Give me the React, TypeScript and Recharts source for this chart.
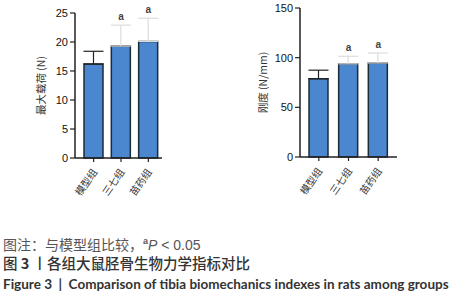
import React from "react";
import { BarChart, Bar, XAxis, YAxis, ErrorBar, ReferenceDot, Cell } from "recharts";

const groups = ["模型组", "三七组", "苗药组"];
const maxLoad = [16.2, 19.3, 20.1];
const maxLoadSd = [2.2, 3.6, 4.0];
const stiffness = [78.8, 93.8, 94.7];
const stiffnessSd = [8.6, 7.6, 10.0];
const marked = [false, true, true];
const loadTicks = [0, 5, 10, 15, 20, 25];
const stiffTicks = [0, 50, 100, 150];

const BLUE = "#4b87cf";
const EDGE = "#1f2a38";
const AXIS = "#222";
const FONT = "'Liberation Sans', Arial, sans-serif";

const rows = (vals: number[], sds: number[]) =>
  groups.map((g, i) => ({
    name: g,
    value: vals[i],
    errDark: marked[i] ? null : [0, sds[i]],
    errLight: marked[i] ? [0, sds[i]] : null,
    top: vals[i] + sds[i],
  }));

const XTick = (props: any) => {
  const { x, y, payload } = props;
  return (
    <text
      x={x + 4}
      y={y + 8}
      transform={`rotate(-55 ${x + 4} ${y + 8})`}
      textAnchor="end"
      fontSize={10}
      fill="#333"
      fontFamily="'Noto Sans CJK SC', sans-serif"
    >
      {payload.value}
    </text>
  );
};

function Panel(props: {
  vals: number[];
  sds: number[];
  ticks: number[];
  label: string;
  yWidth: number;
  margin: { top: number; right: number; bottom: number; left: number };
  labelDx: number;
  padLeft: number;
  padRight: number;
}) {
  const data = rows(props.vals, props.sds);
  const max = props.ticks[props.ticks.length - 1];
  return (
    <BarChart width={200} height={215} data={data} margin={props.margin} barSize={19}>
      <XAxis
        dataKey="name"
        height={50}
        interval={0}
        tick={<XTick />}
        tickSize={4}
        axisLine={{ stroke: AXIS, strokeWidth: 1.5 }}
        tickLine={{ stroke: AXIS, strokeWidth: 1.2 }}
        padding={{ left: props.padLeft, right: props.padRight }}
      />
      <YAxis
        width={props.yWidth}
        domain={[0, max]}
        ticks={props.ticks}
        interval={0}
        tickSize={5}
        axisLine={{ stroke: AXIS, strokeWidth: 1.5 }}
        tickLine={{ stroke: AXIS, strokeWidth: 1.2 }}
        tick={{ fontSize: 11, fill: "#111", fontFamily: FONT }}
        label={{
          value: props.label,
          angle: -90,
          position: "center",
          dx: props.labelDx,
          style: { fontSize: 10.5, fill: "#333", fontFamily: "'Noto Sans CJK SC', sans-serif" },
        }}
      />
      <Bar dataKey="value" fill={BLUE} stroke={EDGE} strokeWidth={1.5} isAnimationActive={false}>
        {data.map((d) => (
          <Cell key={d.name} fill={BLUE} />
        ))}
        <ErrorBar dataKey="errDark" width={10} stroke={AXIS} strokeWidth={1.2} direction="y" />
        <ErrorBar dataKey="errLight" width={10} stroke="#dcdcdc" strokeWidth={1.2} direction="y" />
      </Bar>
      {data.map((d, i) =>
        marked[i] ? (
          <ReferenceDot
            key={d.name}
            x={d.name}
            y={d.top}
            r={0}
            stroke="none"
            fill="none"
            ifOverflow="visible"
            label={{
              value: "a",
              position: "top",
              offset: 5,
              style: { fontSize: 10, fontWeight: 700, fill: "#444", fontFamily: FONT },
            }}
          />
        ) : null
      )}
    </BarChart>
  );
}

export default function App() {
  return (
    <div
      style={{
        position: "absolute",
        left: 0,
        top: 0,
        width: 470,
        height: 300,
        background: "#fff",
        overflow: "hidden",
      }}
    >
      <div style={{ position: "absolute", left: 0, top: 0 }}>
        <Panel
          vals={maxLoad}
          sds={maxLoadSd}
          ticks={loadTicks}
          label="最大载荷 (N)"
          yWidth={75}
          margin={{ top: 13, right: 38, bottom: 7, left: 0 }}
          labelDx={4}
          padLeft={5}
          padRight={0}
        />
      </div>
      <div style={{ position: "absolute", left: 230, top: 0 }}>
        <Panel
          vals={stiffness}
          sds={stiffnessSd}
          ticks={stiffTicks}
          label="刚度 (N/mm)"
          yWidth={70}
          margin={{ top: 8, right: 33, bottom: 8, left: 0 }}
          labelDx={-2}
          padLeft={4}
          padRight={4}
        />
      </div>
      <div
        style={{
          position: "absolute",
          left: 3,
          top: 230,
          fontFamily: "'Noto Sans CJK SC', sans-serif",
          fontSize: 14,
          color: "#555",
          whiteSpace: "nowrap",
        }}
      >
        <div style={{ height: 22, lineHeight: "22px" }}>
          图注：与模型组比较，
          <sup style={{ fontSize: 9, fontWeight: 700, fontFamily: FONT }}>a</sup>
          <span style={{ fontFamily: FONT, fontStyle: "italic" }}>P</span>
          <span style={{ fontFamily: FONT }}> &lt; 0.05</span>
        </div>
        <div style={{ height: 21, lineHeight: "22px", color: "#333", fontWeight: 500, fontSize: 14.5 }}>
          图 <b>3</b> 丨各组大鼠胫骨生物力学指标对比
        </div>
        <div
          style={{
            lineHeight: "22px",
            color: "#333",
            fontWeight: 700,
            fontFamily: "Lato, sans-serif",
            fontSize: 13.5,
          }}
        >
          Figure 3 &nbsp;| &nbsp;Comparison of tibia biomechanics indexes in rats among groups
        </div>
      </div>
    </div>
  );
}
